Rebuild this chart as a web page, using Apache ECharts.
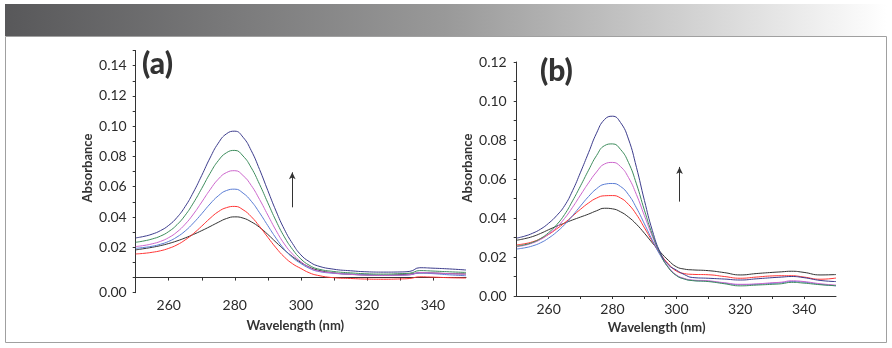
<!DOCTYPE html>
<html>
<head>
<meta charset="utf-8">
<script src="https://cdn.jsdelivr.net/npm/echarts@6/dist/echarts.min.js"></script>
<style>
html,body{margin:0;padding:0;background:#fff;}
#c{width:892px;height:348px;}
</style>
</head>
<body>
<div id="c"></div>
<script>
// Wavelength grid (nm)
const wavelengths = [250,252.5,255,257.5,260,262.5,265,267.5,270,272.5,275,277.5,280,282.5,285,287.5,290,292.5,295,297.5,300,302.5,305,310,315,320,325,330,333,336,340,345,350];

// Panel (a) absorbance series
const aNavy    = [0.0262,0.0272,0.0287,0.0310,0.0345,0.0397,0.0470,0.0565,0.0675,0.0790,0.0888,0.0950,0.0967,0.0927,0.0838,0.0714,0.0575,0.0439,0.0319,0.0224,0.0150,0.0106,0.0078,0.0055,0.0045,0.0038,0.0036,0.0037,0.0041,0.0065,0.0062,0.0057,0.0050];
const aGreen   = [0.0233,0.0242,0.0255,0.0274,0.0304,0.0349,0.0412,0.0494,0.0589,0.0688,0.0772,0.0825,0.0840,0.0803,0.0725,0.0616,0.0494,0.0374,0.0269,0.0186,0.0123,0.0082,0.0058,0.0040,0.0031,0.0025,0.0023,0.0026,0.0029,0.0046,0.0043,0.0038,0.0034];
const aMagenta = [0.0205,0.0212,0.0223,0.0239,0.0264,0.0301,0.0353,0.0420,0.0499,0.0580,0.0650,0.0694,0.0706,0.0674,0.0608,0.0516,0.0413,0.0311,0.0222,0.0155,0.0105,0.0068,0.0045,0.0030,0.0021,0.0016,0.0014,0.0016,0.0019,0.0033,0.0030,0.0026,0.0022];
const aBlue    = [0.0193,0.0199,0.0207,0.0220,0.0239,0.0268,0.0308,0.0361,0.0422,0.0486,0.0540,0.0575,0.0584,0.0558,0.0504,0.0428,0.0343,0.0260,0.0187,0.0132,0.0093,0.0062,0.0042,0.0028,0.0022,0.0018,0.0015,0.0015,0.0018,0.0030,0.0026,0.0018,0.0012];
const aRed     = [0.0156,0.0160,0.0167,0.0177,0.0193,0.0216,0.0249,0.0291,0.0340,0.0391,0.0435,0.0462,0.0470,0.0448,0.0402,0.0338,0.0266,0.0196,0.0136,0.0091,0.0060,0.0032,0.0015,-0.0001,-0.0006,-0.0010,-0.0011,-0.0009,-0.0006,0.0005,0.0003,-0.0001,-0.0003];
const aBlack   = [0.0183,0.0191,0.0200,0.0211,0.0225,0.0242,0.0262,0.0285,0.0310,0.0337,0.0365,0.0390,0.0401,0.0393,0.0368,0.0332,0.0285,0.0233,0.0183,0.0138,0.0100,0.0070,0.0050,0.0031,0.0022,0.0017,0.0015,0.0019,0.0023,0.0031,0.0030,0.0026,0.0024];

// Panel (b) absorbance series
const bNavy    = [0.0297,0.0307,0.0322,0.0343,0.0373,0.0412,0.0463,0.0540,0.0635,0.0735,0.0835,0.0905,0.0922,0.0890,0.0805,0.0660,0.0490,0.0335,0.0222,0.0160,0.0133,0.0110,0.0095,0.0091,0.0087,0.0082,0.0088,0.0094,0.0097,0.0100,0.0094,0.0080,0.0074];
const bGreen   = [0.0256,0.0263,0.0275,0.0295,0.0325,0.0365,0.0418,0.0488,0.0565,0.0645,0.0720,0.0771,0.0780,0.0752,0.0685,0.0575,0.0440,0.0315,0.0215,0.0145,0.0105,0.0087,0.0079,0.0074,0.0063,0.0052,0.0056,0.0060,0.0063,0.0070,0.0066,0.0058,0.0053];
const bMagenta = [0.0253,0.0260,0.0272,0.0290,0.0318,0.0352,0.0398,0.0455,0.0518,0.0580,0.0636,0.0677,0.0685,0.0664,0.0608,0.0520,0.0412,0.0305,0.0213,0.0148,0.0108,0.0090,0.0082,0.0078,0.0068,0.0060,0.0062,0.0068,0.0071,0.0078,0.0074,0.0063,0.0056];
const bBlue    = [0.0241,0.0247,0.0257,0.0273,0.0297,0.0328,0.0366,0.0412,0.0462,0.0510,0.0550,0.0573,0.0577,0.0562,0.0520,0.0452,0.0370,0.0285,0.0208,0.0148,0.0106,0.0088,0.0080,0.0076,0.0066,0.0058,0.0060,0.0065,0.0068,0.0074,0.0071,0.0060,0.0052];
const bRed     = [0.0262,0.0268,0.0278,0.0294,0.0316,0.0344,0.0375,0.0410,0.0445,0.0477,0.0502,0.0514,0.0515,0.0503,0.0470,0.0418,0.0350,0.0280,0.0215,0.0165,0.0128,0.0115,0.0111,0.0109,0.0100,0.0091,0.0097,0.0103,0.0104,0.0104,0.0097,0.0086,0.0092];
const bBlack   = [0.0286,0.0294,0.0305,0.0321,0.0340,0.0358,0.0374,0.0390,0.0405,0.0420,0.0437,0.0450,0.0447,0.0432,0.0405,0.0368,0.0322,0.0272,0.0225,0.0183,0.0150,0.0138,0.0134,0.0130,0.0120,0.0108,0.0115,0.0121,0.0124,0.0127,0.0121,0.0108,0.0110];

// Tick labels
const xTickLabels = [260, 280, 300, 320, 340];
const aYTickLabels = ['0.02','0.04','0.06','0.08','0.10','0.12','0.14'];
const bYTickLabels = ['0.00','0.02','0.04','0.06','0.08','0.10','0.12'];

// Arrow annotations [wavelength, from, to]
const arrowA = [297.4, 0.0464, 0.0695];
const arrowB = [301.0, 0.0484, 0.0662];

const colors = {navy:'#3c3c8c', green:'#3d8c5c', magenta:'#cc66cc', blue:'#5a7dd4', red:'#ff3535', black:'#333333'};

function pairs(arr){ return wavelengths.map((w,i)=>[w, arr[i]]); }

const FONT = 'Lato, "Open Sans", sans-serif';
const TXT = '#2b2b2b';

function xAxis(gi){
  return {
    type:'value', gridIndex:gi, min:250, max:350, interval:10,
    axisLine:{show:true, lineStyle:{color:'#333', width:1}},
    axisTick:{show:true, inside:false, length:3, lineStyle:{color:'#333'}},
    splitLine:{show:false},
    axisLabel:{
      margin:6, color:TXT, fontSize:14, fontFamily:FONT,
      showMinLabel:false, showMaxLabel:false,
      formatter:function(v){ return xTickLabels.indexOf(Math.round(v))>=0 ? String(Math.round(v)) : ''; }
    }
  };
}

const option = {
  animation:false,
  backgroundColor:'#fff',
  grid:[
    {left:135.7, top:50.5, width:330.3, height:242.2, containLabel:false},
    {left:516.7, top:62, width:319.3, height:234, containLabel:false}
  ],
  xAxis:[xAxis(0), xAxis(1)],
  yAxis:[
    {
      type:'value', gridIndex:0, min:-0.01, max:0.15, interval:0.01,
      axisLine:{show:true, lineStyle:{color:'#333', width:1}},
      axisTick:{show:true, inside:false, length:3, lineStyle:{color:'#333'}},
      splitLine:{show:false},
      axisLabel:{
        margin:9, color:TXT, fontSize:14, fontFamily:FONT,
        formatter:function(v){
          const k = Math.round(v*100);
          if (k === -1) return '0.00';
          const s = (k/100).toFixed(2);
          return aYTickLabels.indexOf(s)>=0 ? s : '';
        }
      }
    },
    {
      type:'value', gridIndex:1, min:0, max:0.12, interval:0.01,
      axisLine:{show:true, lineStyle:{color:'#333', width:1}},
      axisTick:{show:true, inside:false, length:3, lineStyle:{color:'#333'}},
      splitLine:{show:false},
      axisLabel:{
        margin:10, color:TXT, fontSize:14, fontFamily:FONT,
        formatter:function(v){
          const s = (Math.round(v*100)/100).toFixed(2);
          return bYTickLabels.indexOf(s)>=0 ? s : '';
        }
      }
    }
  ],
  series:[],
  graphic:[
    {type:'rect', z:-1, shape:{x:5, y:4, width:882, height:32},
     style:{fill:new echarts.graphic.LinearGradient(0,0,1,0,[{offset:0,color:'#58585a'},{offset:0.5,color:'#999999'},{offset:1,color:'#ffffff'}])}},
    {type:'rect', z:-1, shape:{x:5.5, y:36.5, width:881, height:306},
     style:{fill:'none', stroke:'#a0a0a0', lineWidth:1}},
    {type:'text', x:142, y:64, style:{text:'(a)', font:'900 30px '+FONT, fill:'#333', align:'left', verticalAlign:'middle'}},
    {type:'text', x:540, y:71.5, style:{text:'(b)', font:'900 30px '+FONT, fill:'#333', align:'left', verticalAlign:'middle'}},
    {type:'text', x:88.3, y:168, rotation:Math.PI/2, style:{text:'Absorbance', font:'bold 13px '+FONT, fill:'#333', align:'center', verticalAlign:'middle'}},
    {type:'text', x:468.3, y:168, rotation:Math.PI/2, style:{text:'Absorbance', font:'bold 13px '+FONT, fill:'#333', align:'center', verticalAlign:'middle'}},
    {type:'text', x:295.3, y:326, style:{text:'Wavelength (nm)', font:'bold 13px '+FONT, fill:'#333', align:'center', verticalAlign:'middle'}},
    {type:'text', x:656.7, y:327.7, style:{text:'Wavelength (nm)', font:'bold 13px '+FONT, fill:'#333', align:'center', verticalAlign:'middle'}}
  ]
};

function addSeries(gi, name, arr, color, arrow){
  const s = {
    type:'line', name:name, xAxisIndex:gi, yAxisIndex:gi,
    data:pairs(arr), showSymbol:false, symbol:'none',
    smooth:0.5,
    lineStyle:{color:color, width:1}, itemStyle:{color:color},
    silent:true
  };
  if (arrow){
    s.markLine = {
      silent:true, symbol:['none','arrow'], symbolSize:[5,7], precision:4,
      label:{show:false},
      lineStyle:{color:'#333', width:1, type:'solid'},
      data:[[{coord:[arrow[0], arrow[1]]},{coord:[arrow[0], arrow[2]]}]]
    };
  }
  option.series.push(s);
}

addSeries(0,'a-black',aBlack,colors.black,arrowA);
addSeries(0,'a-red',aRed,colors.red);
addSeries(0,'a-blue',aBlue,colors.blue);
addSeries(0,'a-magenta',aMagenta,colors.magenta);
addSeries(0,'a-green',aGreen,colors.green);
addSeries(0,'a-navy',aNavy,colors.navy);

addSeries(1,'b-black',bBlack,colors.black,arrowB);
addSeries(1,'b-red',bRed,colors.red);
addSeries(1,'b-blue',bBlue,colors.blue);
addSeries(1,'b-magenta',bMagenta,colors.magenta);
addSeries(1,'b-green',bGreen,colors.green);
addSeries(1,'b-navy',bNavy,colors.navy);

const chart = echarts.init(document.getElementById('c'), null, {renderer:'canvas'});
chart.setOption(option);
</script>
</body>
</html>
